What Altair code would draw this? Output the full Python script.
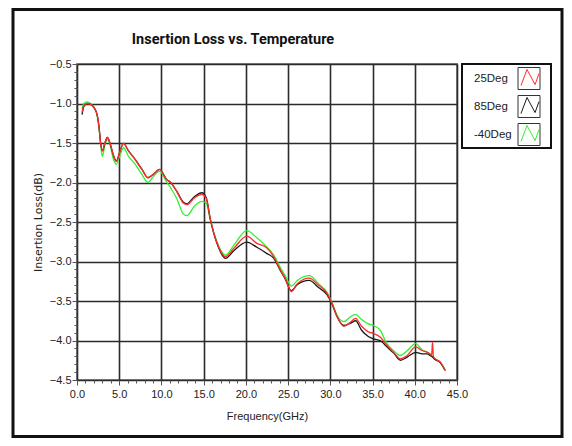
import altair as alt
import pandas as pd

# ---------------- data ----------------
freq = [0.6, 0.8, 1.2, 1.6, 2.0, 2.4, 2.6, 2.8, 3.0, 3.3, 3.6, 3.9, 4.3, 4.65, 5.1,
        5.5, 6.1, 6.9, 7.7, 8.4, 9.0, 9.8, 10.6, 11.1, 11.8, 12.6, 13.0, 13.9, 14.8, 15.3,
        15.8, 16.6, 17.6, 18.6, 20.1, 21.3, 22.5, 23.3, 24.1, 24.6, 25.4, 26.1, 27.5, 28.6, 29.6,
        30.2, 30.8, 31.6, 32.4, 33.0, 33.7, 34.5, 35.1, 35.9, 36.7, 37.5, 38.3, 39.1, 40.1, 40.9,
        41.5, 41.8, 42.0, 42.1, 42.2, 42.4, 43.0, 43.6]

il_25 = [-1.11, -1.03, -1.00, -1.01, -1.05, -1.15, -1.29, -1.50, -1.60, -1.50,
         -1.43, -1.50, -1.65, -1.73, -1.60, -1.505, -1.60, -1.71, -1.835, -1.94,
         -1.90, -1.835, -1.96, -2.00, -2.11, -2.26, -2.28, -2.195, -2.15, -2.20,
         -2.47, -2.77, -2.94, -2.83, -2.68, -2.77, -2.83, -2.94, -3.11, -3.20,
         -3.38, -3.28, -3.21, -3.30, -3.40, -3.53, -3.70, -3.82, -3.765, -3.72,
         -3.82, -3.89, -3.91, -3.955, -4.06, -4.15, -4.23, -4.19, -4.08, -4.13,
         -4.15, -4.17, -4.18, -4.02, -4.20, -4.23, -4.27, -4.38]

il_85 = [-1.14, -1.04, -1.00, -1.01, -1.05, -1.15, -1.29, -1.50, -1.60, -1.50,
         -1.43, -1.50, -1.65, -1.73, -1.60, -1.505, -1.60, -1.71, -1.835, -1.94,
         -1.90, -1.835, -1.96, -2.00, -2.11, -2.25, -2.27, -2.18, -2.13, -2.19,
         -2.47, -2.78, -2.96, -2.86, -2.755, -2.82, -2.90, -2.96, -3.12, -3.21,
         -3.37, -3.29, -3.24, -3.33, -3.42, -3.54, -3.70, -3.81, -3.78, -3.75,
         -3.87, -3.95, -3.98, -4.00, -4.08, -4.16, -4.25, -4.21, -4.15, -4.17,
         -4.17, -4.19, -4.20, -4.21, -4.22, -4.24, -4.28, -4.38]

il_m40 = [-1.07, -1.00, -0.98, -1.00, -1.05, -1.16, -1.30, -1.52, -1.67, -1.53,
          -1.45, -1.52, -1.70, -1.77, -1.65, -1.56, -1.67, -1.77, -1.90, -2.00,
          -1.93, -1.86, -1.99, -2.07, -2.20, -2.40, -2.42, -2.30, -2.24, -2.26,
          -2.48, -2.76, -2.92, -2.79, -2.61, -2.70, -2.82, -2.92, -3.08, -3.17,
          -3.31, -3.24, -3.18, -3.28, -3.39, -3.52, -3.68, -3.76, -3.70, -3.67,
          -3.735, -3.79, -3.81, -3.87, -4.04, -4.13, -4.19, -4.13, -4.04, -4.12,
          -4.15, -4.17, -4.19, -4.20, -4.21, -4.23, -4.27, -4.37]

series_names = ["25Deg", "85Deg", "-40Deg"]
series_colors = ["#ff2b2b", "#1a1a1a", "#2ef02e"]

x_ticks = [float(v) for v in range(0, 46)]
y_ticks = [round(-4.5 + 0.1 * i, 1) for i in range(41)]

chart_title = "Insertion Loss vs. Temperature"

# ---------------- tables ----------------
df = pd.concat(
    [pd.DataFrame({"freq": freq, "il": vals, "series": name})
     for name, vals in zip(series_names, [il_25, il_85, il_m40])],
    ignore_index=True,
)
legend_df = pd.DataFrame({"series": series_names})
one = pd.DataFrame({"k": [0]})

FONT = "Liberation Sans"

W, H = 380, 316

color_scale = alt.Scale(domain=series_names, range=series_colors)

x_major = "abs(datum.value/5 - round(datum.value/5)) < 0.001"
y_major = "abs(datum.value*2 - round(datum.value*2)) < 0.001"

x_enc = alt.X(
    "freq:Q",
    scale=alt.Scale(domain=[0, 45], nice=False, zero=False),
    axis=alt.Axis(
        values=x_ticks,
        labelExpr=f"{x_major} ? format(datum.value, '.1f') : ''",
        labelOverlap=False, labelFlush=False,
        tickSize={"condition": {"test": x_major, "value": 5}, "value": 3},
        gridOpacity={"condition": {"test": x_major, "value": 1}, "value": 0},
        labelPadding=3,
        title="Frequency(GHz)", titleFont=FONT, titleFontSize=11,
        titleFontWeight="normal", titlePadding=11,
    ),
)
y_enc = alt.Y(
    "il:Q",
    scale=alt.Scale(domain=[-4.5, -0.5], nice=False, zero=False),
    axis=alt.Axis(
        values=y_ticks,
        labelExpr=f"{y_major} ? format(datum.value, '.1f') : ''",
        labelOverlap=False, labelFlush=False,
        tickSize={"condition": {"test": y_major, "value": 5}, "value": 3},
        gridOpacity={"condition": {"test": y_major, "value": 1}, "value": 0},
        labelPadding=1,
        title="Insertion Loss(dB)", titleFont="DejaVu Sans", titleFontSize=11,
        titleFontWeight="normal", titlePadding=6,
    ),
)

def series_line(name):
    return alt.Chart(df).transform_filter(alt.datum.series == name).mark_line(
        strokeWidth=1.3, interpolate="monotone"
    ).encode(
        x=x_enc, y=y_enc,
        color=alt.Color("series:N", scale=color_scale, legend=None),
    )

lines = alt.layer(series_line("-40Deg"), series_line("85Deg"), series_line("25Deg"))

# ---------------- legend panel ----------------
leg_y = alt.Y("series:N", sort=series_names, axis=None,
              scale=alt.Scale(type="point", domain=series_names, range=[14.5, 70.5], padding=0))

legend_box = alt.Chart(one).mark_rect(fill="white", stroke="#111", strokeWidth=2).encode(
    x=alt.value(385), x2=alt.value(474), y=alt.value(0), y2=alt.value(84)
)
legend_text = alt.Chart(legend_df).mark_text(
    align="left", baseline="middle", font=FONT, fontSize=11.5, color="#222"
).encode(x=alt.value(397), y=leg_y, text="series:N")
legend_sq = alt.Chart(legend_df).mark_point(
    shape="square", filled=False, size=484, strokeWidth=1, color="#333", opacity=1
).encode(x=alt.value(452), y=leg_y)
zigzag = "M-0.73,0.64 L-0.18,-0.82 L0.55,0.55 L0.91,-0.45"
legend_zz = alt.Chart(legend_df).mark_point(
    shape=zigzag, filled=False, size=484, strokeWidth=1, opacity=1
).encode(x=alt.value(452), y=leg_y,
         color=alt.Color("series:N", scale=color_scale, legend=None))
legend = alt.layer(legend_text, legend_sq, legend_zz)

# ---------------- title and outer frame ----------------
title_mark = alt.Chart(one).mark_text(
    text=chart_title, font="Roboto", fontSize=14.5, fontWeight="bold",
    align="center", baseline="middle", color="#111"
).encode(x=alt.value(156), y=alt.value(-24))

frame = alt.Chart(one).mark_rect(fill="white", fillOpacity=0, stroke="#111", strokeWidth=3).encode(
    x=alt.value(-64), x2=alt.value(485), y=alt.value(-54.5), y2=alt.value(372.5)
)

chart = alt.layer(lines, legend_box, legend, title_mark, frame).resolve_scale(
    y="independent"
).properties(
    width=W, height=H,
    autosize=alt.AutoSizeParams(type="none"),
    padding={"left": 69, "top": 56, "right": 107, "bottom": 58},
).configure_view(
    stroke="#8a8a8a", strokeWidth=2
).configure_axis(
    domain=False, labelFont=FONT, labelFontSize=11, labelColor="#222",
    tickColor="#555", tickWidth=1, gridColor="#2b2b2b", gridWidth=1.6,
    titleColor="#222",
)

chart.save("out.html", embed_options={"renderer": "svg", "actions": False})
